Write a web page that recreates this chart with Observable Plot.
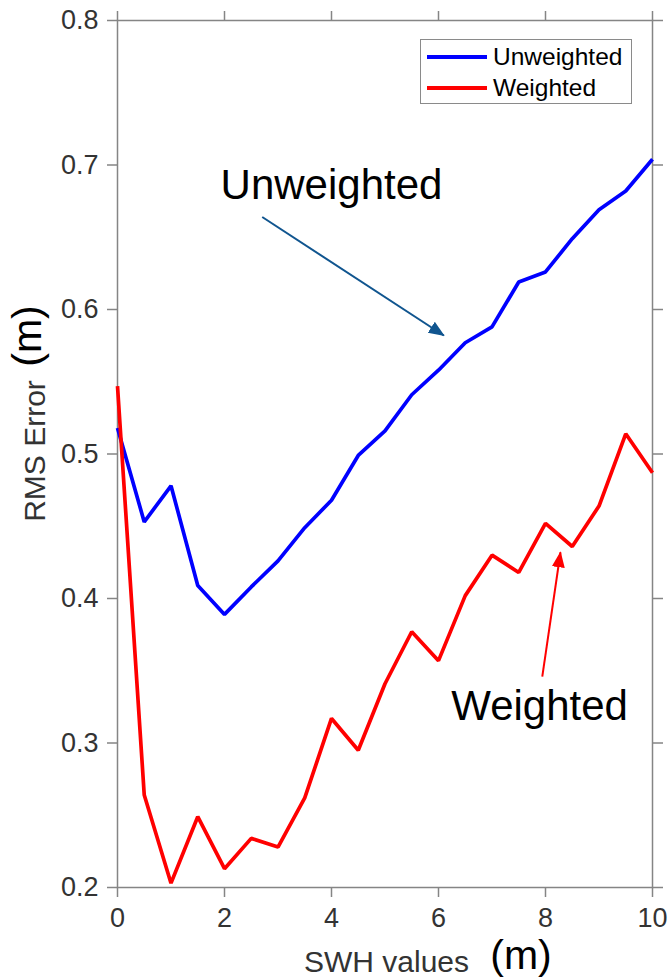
<!DOCTYPE html>
<html><head><meta charset="utf-8">
<script src="https://cdn.jsdelivr.net/npm/d3@7"></script>
<script src="https://cdn.jsdelivr.net/npm/@observablehq/plot@0.6"></script>
<style>
body{margin:0;background:#fff;font-family:"Liberation Sans",Arial,sans-serif;}
#wrap{position:relative;width:669px;height:980px;}
#legend{position:absolute;left:420px;top:39px;width:212px;height:65px;border:1.5px solid #8a8a8a;background:#fff;box-sizing:border-box;}
.row{position:absolute;left:6px;display:flex;align-items:center;height:28px;font-size:24.5px;color:#000;white-space:nowrap;}
.sw{width:60px;height:4px;margin-right:6px;}
</style></head><body>
<div id="wrap"><div id="legend"></div></div>
<script>
// ---- data ----
const swh = [0,0.5,1,1.5,2,2.5,3,3.5,4,4.5,5,5.5,6,6.5,7,7.5,8,8.5,9,9.5,10];
const unweighted = [0.518,0.453,0.478,0.409,0.389,0.408,0.426,0.449,0.468,0.499,0.516,0.541,0.558,0.577,0.588,0.619,0.626,0.649,0.669,0.682,0.704];
const weighted = [0.547,0.264,0.203,0.249,0.213,0.234,0.228,0.262,0.317,0.295,0.341,0.377,0.357,0.402,0.430,0.418,0.452,0.436,0.464,0.514,0.487];
const seriesNames = ["Unweighted","Weighted"];
const seriesColors = ["#0000ff","#ff0000"];
const xTicks = [0,2,4,6,8,10];
const yTicks = [0.2,0.3,0.4,0.5,0.6,0.7,0.8];
const xLabel = "SWH values";
const yLabel = "RMS Error";
const unitLabel = "(m)";
const annotationLabels = [{label:"Unweighted", x:4.0, y:0.686},{label:"Weighted", x:7.89, y:0.325}];
const arrowUnweighted = [{x1:2.705, y1:0.664, x2:6.10, y2:0.582}];
const arrowWeighted = [{x1:7.94, y1:0.346, x2:8.28, y2:0.432}];

const rows = [
  ...swh.map((x,i)=>({swh:x, value:unweighted[i], series:seriesNames[0]})),
  ...swh.map((x,i)=>({swh:x, value:weighted[i], series:seriesNames[1]}))
];

function headMarker(color, context) {
  const ns = "http://www.w3.org/2000/svg";
  const doc = (context && context.document) || document;
  const m = doc.createElementNS(ns, "marker");
  m.setAttribute("viewBox", "-15 -8 16 16");
  m.setAttribute("markerWidth", 16);
  m.setAttribute("markerHeight", 16);
  m.setAttribute("markerUnits", "userSpaceOnUse");
  m.setAttribute("orient", "auto");
  m.setAttribute("refX", 0);
  m.setAttribute("refY", 0);
  const p = doc.createElementNS(ns, "path");
  p.setAttribute("d", "M-15,-6.5L1,0L-15,6.5Z");
  p.setAttribute("fill", color);
  p.setAttribute("stroke", "none");
  m.appendChild(p);
  return m;
}

const axisGray = "#858585";
const textGray = "#333333";

const chart = Plot.plot({
  width: 669,
  height: 980,
  marginLeft: 117,
  marginRight: 17,
  marginTop: 20,
  marginBottom: 93,
  style: {fontFamily: '"Liberation Sans", Arial, sans-serif', background: "#fff", overflow: "visible"},
  x: {domain: [0, 10]},
  y: {domain: [0.2, 0.8]},
  color: {domain: seriesNames, range: seriesColors},
  marks: [
    Plot.frame({stroke: axisGray, strokeWidth: 1.5}),
    Plot.axisX(xTicks, {anchor: "bottom", tickSize: 10, tickPadding: 10, fontSize: 27, stroke: axisGray, strokeWidth: 1.5, fill: textGray, label: null, tickFormat: d => String(d)}),
    Plot.axisX(xTicks, {anchor: "top", tickSize: 10, stroke: axisGray, strokeWidth: 1.5, fill: "none", label: null}),
    Plot.axisY(yTicks, {anchor: "left", tickSize: 10, tickPadding: 9, fontSize: 27, stroke: axisGray, strokeWidth: 1.5, fill: textGray, label: null, tickFormat: d => d.toFixed(1)}),
    Plot.axisY(yTicks, {anchor: "right", tickSize: 10, stroke: axisGray, strokeWidth: 1.5, fill: "none", label: null}),
    Plot.line(rows, {x: "swh", y: "value", z: "series", stroke: "series", strokeWidth: 3.7, strokeLinejoin: "miter", strokeLinecap: "butt"}),
    Plot.link(arrowUnweighted, {x1: "x1", y1: "y1", x2: "x2", y2: "y2", stroke: "#10558f", strokeWidth: 2, markerEnd: headMarker}),
    Plot.link(arrowWeighted, {x1: "x1", y1: "y1", x2: "x2", y2: "y2", stroke: "#ff0000", strokeWidth: 2, markerEnd: headMarker}),
    Plot.text(annotationLabels, {x: "x", y: "y", text: "label", fontSize: 42, fill: "#000"}),
    Plot.text([xLabel], {frameAnchor: "bottom", textAnchor: "middle", lineAnchor: "middle", dx: 1.5, dy: 75, fontSize: 30, fill: textGray}),
    Plot.text([unitLabel], {frameAnchor: "bottom", textAnchor: "middle", lineAnchor: "middle", dx: 136, dy: 68, fontSize: 41, fill: "#000"}),
    Plot.text([yLabel], {frameAnchor: "left", textAnchor: "middle", lineAnchor: "middle", dx: -82, dy: -3, rotate: -90, fontSize: 30, fill: textGray}),
    Plot.text([unitLabel], {frameAnchor: "left", textAnchor: "middle", lineAnchor: "middle", dx: -90, dy: -118, rotate: -90, fontSize: 41, fill: "#000"})
  ]
});
const wrap = document.getElementById("wrap");
wrap.insertBefore(chart, wrap.firstChild);

const legend = document.getElementById("legend");
const rowTops = [2.5, 33.5];
seriesNames.forEach((name, i) => {
  const r = document.createElement("div");
  r.className = "row";
  r.style.top = rowTops[i] + "px";
  const s = document.createElement("div");
  s.className = "sw";
  s.style.background = seriesColors[i];
  const t = document.createElement("span");
  t.textContent = name;
  r.appendChild(s); r.appendChild(t);
  legend.appendChild(r);
});
</script>
</body></html>
